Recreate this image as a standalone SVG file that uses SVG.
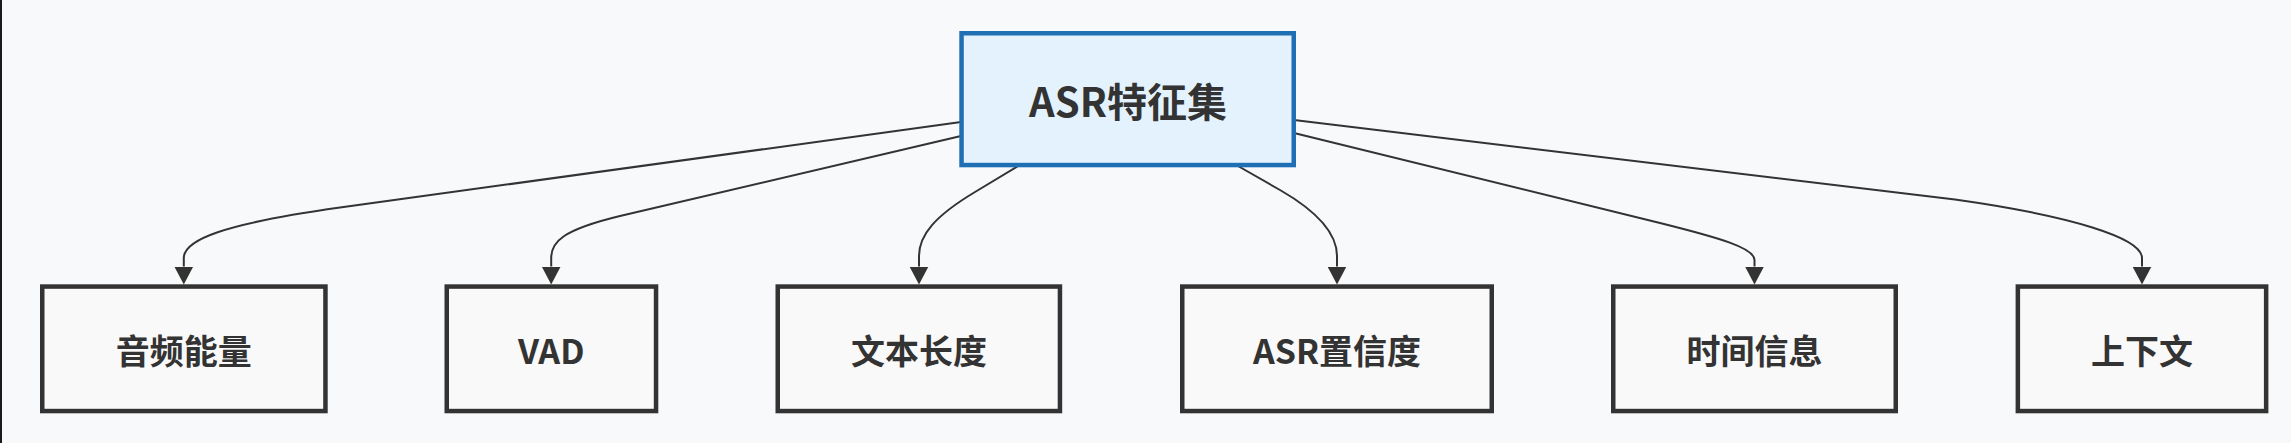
<svg xmlns="http://www.w3.org/2000/svg" width="2291" height="443" viewBox="0 0 2291 443">
<style>
.bg{fill:#f8f9fa}
.edge{fill:none;stroke:#333;stroke-width:2}
.root rect{fill:#e3f2fd;stroke:#1f6fb5;stroke-width:4.5}
.leaf rect{fill:#f9f9f9;stroke:#333;stroke-width:4.5}
text{font-family:"Noto Sans CJK SC","Noto Sans",sans-serif;font-weight:bold;fill:#333;text-anchor:middle;dominant-baseline:central}
.root text{font-size:40px}
.leaf text{font-size:34px}
</style>
<defs>
<marker id="arrow" markerUnits="userSpaceOnUse" markerWidth="18" markerHeight="19" refX="0" refY="9.5" orient="auto" viewBox="0 0 18 19">
<path d="M0,0 L18,9.5 L0,19 z" fill="#333"/>
</marker>
</defs>
<rect class="bg" x="0" y="0" width="2291" height="443"/>
<rect x="0" y="0" width="2" height="443" fill="#1b1b1b"/>
<g id="connectors">
<path class="edge" marker-end="url(#arrow)" d="M961,122 L340,207.5 C222,224 183.8,240 183.8,258 L183.8,266.5"/>
<path class="edge" marker-end="url(#arrow)" d="M961,136 L620,216 C562,230 551.2,242 551.2,258 L551.2,266.5"/>
<path class="edge" marker-end="url(#arrow)" d="M1018,166 L975,192 C935,216 919,235 919,256 L919,266.5"/>
<path class="edge" marker-end="url(#arrow)" d="M1238,166 L1280,190 C1320,213 1337,235 1337,256 L1337,266.5"/>
<path class="edge" marker-end="url(#arrow)" d="M1294,133 L1660,223 C1720,238 1754.5,248 1754.5,260 L1754.5,266.5"/>
<path class="edge" marker-end="url(#arrow)" d="M1294,120 L1955,199.5 C2072,216 2142,238 2142,258 L2142,266.5"/>
</g>
<g id="asr" class="root">
<rect x="961.55" y="33.25" width="332.2" height="131.8"/>
<text x="1128" y="100">ASR特征集</text>
</g>
<g id="energy" class="leaf">
<rect x="42.25" y="286.55" width="283.2" height="124.5"/>
<text x="183.8" y="349">音频能量</text>
</g>
<g id="vad" class="leaf">
<rect x="446.75" y="286.55" width="209.3" height="124.5"/>
<text x="551.2" y="349">VAD</text>
</g>
<g id="textlen" class="leaf">
<rect x="777.75" y="286.55" width="282.2" height="124.5"/>
<text x="919" y="349">文本长度</text>
</g>
<g id="conf" class="leaf">
<rect x="1182.25" y="286.55" width="309.5" height="124.5"/>
<text x="1337" y="349">ASR置信度</text>
</g>
<g id="time" class="leaf">
<rect x="1613.25" y="286.55" width="282.5" height="124.5"/>
<text x="1754.5" y="349">时间信息</text>
</g>
<g id="context" class="leaf">
<rect x="2017.85" y="286.55" width="248.3" height="124.5"/>
<text x="2142" y="349">上下文</text>
</g>
</svg>
